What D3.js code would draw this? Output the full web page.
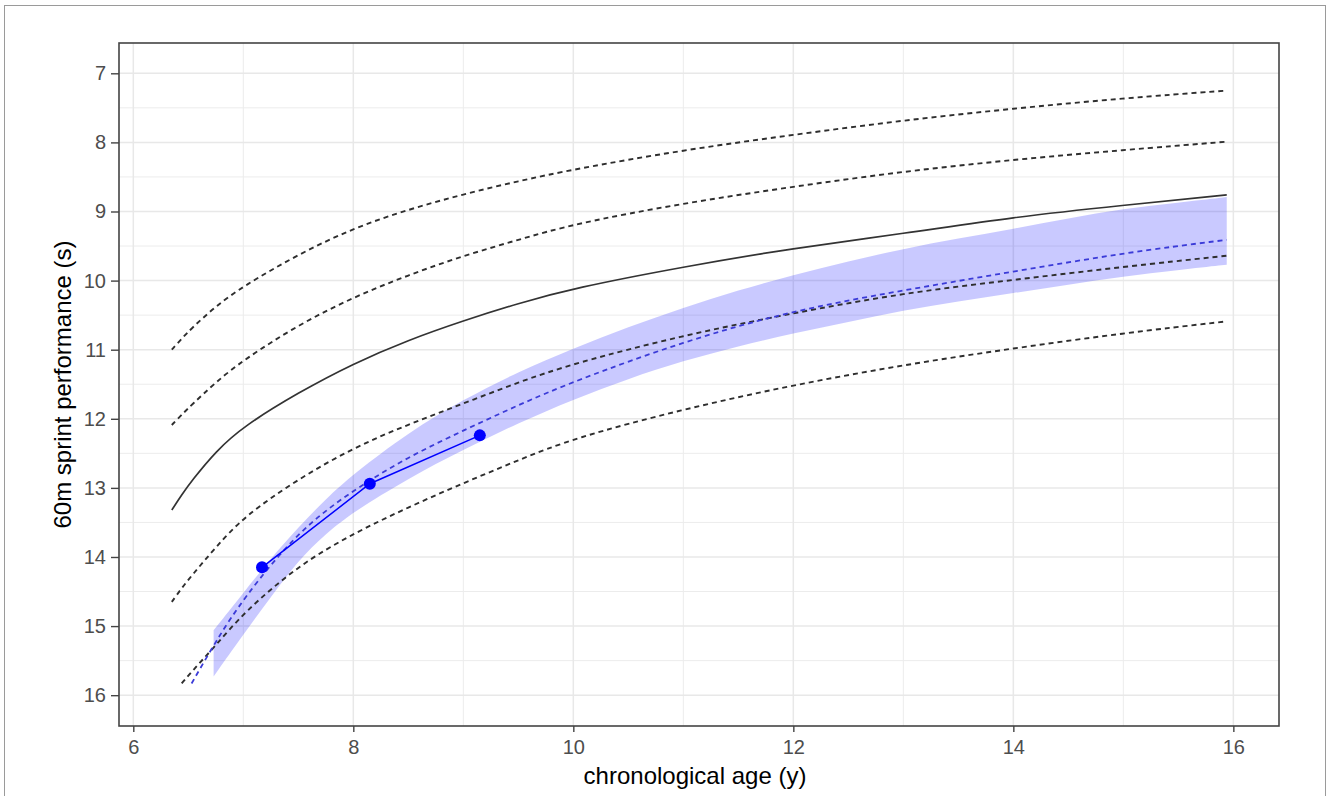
<!DOCTYPE html>
<html>
<head>
<meta charset="utf-8">
<script src="https://cdn.jsdelivr.net/npm/d3@7"></script>
<style>
  body { margin: 0; background: #fff; }
  svg { display: block; font-family: "Liberation Sans", Arial, sans-serif; }
</style>
</head>
<body>
<div class="chart"></div>
<script>
let FRAME_WIDTH = 1328;
let FRAME_HEIGHT = 796;
let PANEL = {left: 119, top: 43, right: 1279, bottom: 726};

// reference percentile curves (age in years, 60m sprint time in s)
const AGE_REF = [6.35, 6.44, 6.53, 6.75, 7, 7.5, 8, 8.5, 9, 9.5, 10, 11, 12, 13, 14, 15, 15.94];
const P97 = [11.00, 10.84, 10.69, 10.37, 10.08, 9.62, 9.24, 8.97, 8.75, 8.56, 8.39, 8.11, 7.89, 7.68, 7.51, 7.36, 7.25];
const P90 = [12.09, 11.94, 11.80, 11.47, 11.15, 10.64, 10.24, 9.92, 9.64, 9.41, 9.18, 8.88, 8.64, 8.42, 8.25, 8.11, 7.99];
const P50 = [13.32, 13.10, 12.90, 12.47, 12.11, 11.62, 11.20, 10.86, 10.58, 10.33, 10.11, 9.80, 9.53, 9.32, 9.08, 8.91, 8.76];
const P10 = [14.65, 14.45, 14.27, 13.86, 13.42, 12.87, 12.42, 12.08, 11.78, 11.47, 11.20, 10.79, 10.47, 10.18, 9.99, 9.80, 9.64];
const P3  = [null, 15.83, 15.66, 15.28, 14.81, 14.12, 13.66, 13.28, 12.93, 12.60, 12.28, 11.86, 11.51, 11.22, 10.98, 10.76, 10.59];
// individual prediction
const PRED = [null, null, 15.83, 15.22, 14.60, 13.62, 13.03, 12.55, 12.17, 11.80, 11.46, 10.88, 10.43, 10.14, 9.87, 9.60, 9.41];

// prediction band
const BAND_AGE = [6.73, 7, 7.25, 7.5, 7.75, 8, 8.5, 9, 9.5, 10, 10.5, 11, 11.5, 12, 12.5, 13, 13.5, 14, 14.5, 15, 15.5, 15.94];
const BAND_FAST = [15.06, 14.52, 14.02, 13.57, 13.16, 12.80, 12.20, 11.72, 11.32, 10.98, 10.67, 10.39, 10.14, 9.92, 9.72, 9.54, 9.39, 9.25, 9.10, 8.96, 8.87, 8.79];
const BAND_SLOW = [15.73, 15.12, 14.58, 14.05, 13.66, 13.35, 12.86, 12.45, 12.06, 11.72, 11.42, 11.16, 10.95, 10.76, 10.60, 10.43, 10.30, 10.18, 10.06, 9.94, 9.85, 9.77];

// observed measurements
const OBS_AGE = [7.17, 8.15, 9.15];
const OBS_TIME = [14.15, 12.94, 12.24];

const X_TICKS = [6, 8, 10, 12, 14, 16];
const X_MINOR = [7, 9, 11, 13, 15];
const Y_TICKS = [7, 8, 9, 10, 11, 12, 13, 14, 15, 16];
const Y_MINOR = [7.5, 8.5, 9.5, 10.5, 11.5, 12.5, 13.5, 14.5, 15.5];

let svg = d3.select(".chart")
            .append("svg")
            .attr("width", FRAME_WIDTH)
            .attr("height", FRAME_HEIGHT);

// outer frame of the figure
svg.append("rect")
   .attr("x", 4.5).attr("y", 5.5)
   .attr("width", 1321).attr("height", 800)
   .attr("fill", "none")
   .attr("stroke", "#9a9a9a")
   .attr("stroke-width", 1);

const X_SCALE = d3.scaleLinear().domain([5.87, 16.415]).range([PANEL.left, PANEL.right]);
const Y_SCALE = d3.scaleLinear().domain([6.5615, 16.446]).range([PANEL.top, PANEL.bottom]);

// grid lines
let grid = svg.append("g");
grid.selectAll(".xminor").data(X_MINOR).enter().append("line")
    .attr("x1", d => X_SCALE(d)).attr("x2", d => X_SCALE(d))
    .attr("y1", PANEL.top).attr("y2", PANEL.bottom)
    .attr("stroke", "#ececec").attr("stroke-width", 1);
grid.selectAll(".yminor").data(Y_MINOR).enter().append("line")
    .attr("y1", d => Y_SCALE(d)).attr("y2", d => Y_SCALE(d))
    .attr("x1", PANEL.left).attr("x2", PANEL.right)
    .attr("stroke", "#ececec").attr("stroke-width", 1);
grid.selectAll(".xmajor").data(X_TICKS).enter().append("line")
    .attr("x1", d => X_SCALE(d)).attr("x2", d => X_SCALE(d))
    .attr("y1", PANEL.top).attr("y2", PANEL.bottom)
    .attr("stroke", "#e8e8e8").attr("stroke-width", 1.5);
grid.selectAll(".ymajor").data(Y_TICKS).enter().append("line")
    .attr("y1", d => Y_SCALE(d)).attr("y2", d => Y_SCALE(d))
    .attr("x1", PANEL.left).attr("x2", PANEL.right)
    .attr("stroke", "#e8e8e8").attr("stroke-width", 1.5);

// band
let bandData = BAND_AGE.map((a, i) => ({age: a, lo: BAND_FAST[i], hi: BAND_SLOW[i]}));
svg.append("path")
   .datum(bandData)
   .attr("d", d3.area()
        .x(d => X_SCALE(d.age))
        .y0(d => Y_SCALE(d.lo))
        .y1(d => Y_SCALE(d.hi))
        .curve(d3.curveBasis))
   .attr("fill", "#0000ff")
   .attr("fill-opacity", 0.21);

// percentile curves
let line = d3.line()
    .defined(d => d.t !== null)
    .x(d => X_SCALE(d.age))
    .y(d => Y_SCALE(d.t))
    .curve(d3.curveBasis);

function addCurve(values, color, dash, width) {
    svg.append("path")
       .datum(AGE_REF.map((a, i) => ({age: a, t: values[i]})))
       .attr("d", line)
       .attr("fill", "none")
       .attr("stroke", color)
       .attr("stroke-width", width)
       .attr("stroke-dasharray", dash);
}

addCurve(P97, "#2e2e2e", "5,4", 1.9);
addCurve(P90, "#2e2e2e", "5,4", 1.9);
addCurve(P10, "#2e2e2e", "5,4", 1.9);
addCurve(P3, "#2e2e2e", "5,4", 1.9);
addCurve(P50, "#333333", null, 1.7);
addCurve(PRED, "#3b3bd8", "5,4", 1.8);

// observations
let obs = OBS_AGE.map((a, i) => ({age: a, t: OBS_TIME[i]}));
svg.append("path")
   .datum(obs)
   .attr("d", d3.line().x(d => X_SCALE(d.age)).y(d => Y_SCALE(d.t)))
   .attr("fill", "none")
   .attr("stroke", "#0000ff")
   .attr("stroke-width", 1.5);
svg.selectAll(".obs").data(obs).enter().append("circle")
   .attr("cx", d => X_SCALE(d.age))
   .attr("cy", d => Y_SCALE(d.t))
   .attr("r", 6)
   .attr("fill", "#0000ff");

// panel border
svg.append("rect")
   .attr("x", PANEL.left).attr("y", PANEL.top)
   .attr("width", PANEL.right - PANEL.left)
   .attr("height", PANEL.bottom - PANEL.top)
   .attr("fill", "none")
   .attr("stroke", "#444")
   .attr("stroke-width", 1.6);

// axes
let xAxis = svg.append("g")
   .attr("transform", "translate(0," + PANEL.bottom + ")")
   .call(d3.axisBottom(X_SCALE).tickValues(X_TICKS).tickSize(6).tickPadding(8).tickFormat(d3.format("d")));
let yAxis = svg.append("g")
   .attr("transform", "translate(" + PANEL.left + ",0)")
   .call(d3.axisLeft(Y_SCALE).tickValues(Y_TICKS).tickSize(8).tickPadding(5).tickFormat(d3.format("d")));

[xAxis, yAxis].forEach(ax => {
    ax.select(".domain").remove();
    ax.selectAll(".tick line").attr("stroke", "#444").attr("stroke-width", 1.4);
    ax.selectAll(".tick text")
      .attr("fill", "#4d4d4d")
      .style("font-size", "20px")
      .style("font-family", "'Liberation Sans', Arial, sans-serif");
});

// axis titles
svg.append("text")
   .attr("x", (PANEL.left + PANEL.right) / 2 - 4)
   .attr("y", 784)
   .attr("text-anchor", "middle")
   .style("font-size", "24px")
   .attr("fill", "#000")
   .text("chronological age (y)");

svg.append("text")
   .attr("transform", "translate(71," + ((PANEL.top + PANEL.bottom) / 2) + ") rotate(-90)")
   .attr("text-anchor", "middle")
   .style("font-size", "24px")
   .attr("fill", "#000")
   .text("60m sprint performance (s)");
</script>
</body>
</html>
